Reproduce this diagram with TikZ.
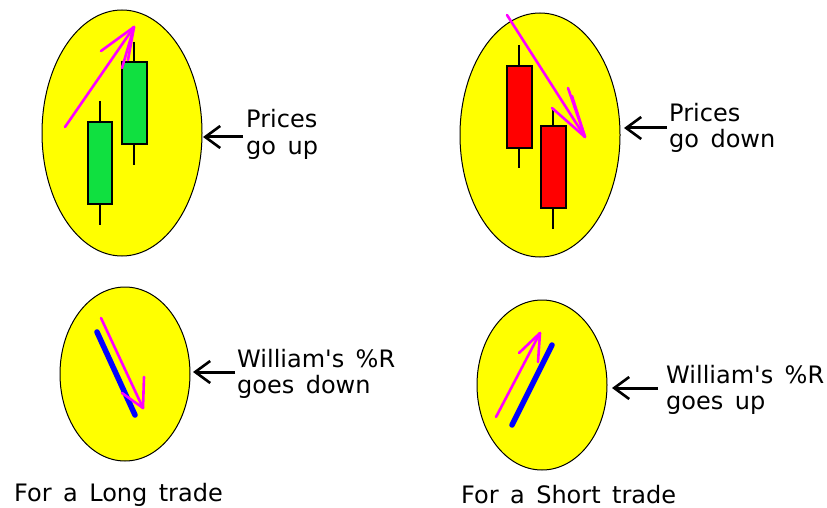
\documentclass[tikz,border=0pt]{standalone}
\usepackage{fontspec}
\newfontfamily\lblfont{DejaVu Sans}[WordSpace=1.5]
\usetikzlibrary{shapes.geometric,arrows.meta}
\definecolor{cgreen}{RGB}{16,224,64}
\definecolor{cred}{RGB}{255,0,0}
\definecolor{cyell}{RGB}{255,255,0}
\definecolor{cpink}{RGB}{255,0,255}
\definecolor{cblue}{RGB}{0,0,255}
\tikzset{
  oval/.style={draw=black, line width=1pt, fill=cyell, ellipse, inner sep=0pt},
  wick/.style={draw=black, line width=1.6pt},
  upbody/.style={draw=black, line width=1.2pt, fill=cgreen},
  downbody/.style={draw=black, line width=1.2pt, fill=cred},
  pinkline/.style={draw=cpink, line width=2.6pt, line cap=round},
  blueline/.style={draw=cblue, line width=5.5pt, line cap=round},
  ptr/.style={draw=black, line width=3pt, -{Straight Barb[length=15pt,width=22pt,line width=2.6pt]}},
  lbl/.style={anchor=base west, inner sep=0pt, font=\lblfont\fontsize{24}{26}\selectfont}
}
\begin{document}
\begin{tikzpicture}[x=1pt,y=-1pt]
\useasboundingbox[fill=white] (0,0) rectangle (827,508);
% ellipses
\node[oval, minimum width=160pt, minimum height=246pt] (e1) at (122,133) {};
\node[oval, minimum width=160pt, minimum height=244pt] (e2) at (540,135) {};
\node[oval, minimum width=130pt, minimum height=174pt] (e3) at (125,374) {};
\node[oval, minimum width=130pt, minimum height=170pt] (e4) at (542,385) {};
% green candles
\draw[wick] (100,101) -- (100,225);
\draw[upbody] (88,122) rectangle (112,204);
\draw[wick] (134,42) -- (134,165);
\draw[upbody] (122,62) rectangle (147,144);
% red candles
\draw[wick] (519,45) -- (519,168);
\draw[downbody] (507,66) rectangle (532,148);
\draw[wick] (553,110) -- (553,229);
\draw[downbody] (541,126) rectangle (566,208);
% pink arrows top
\coordinate (p1s) at (65,127);
\coordinate (p1t) at (134,27);
\draw[pinkline] (p1s) -- (p1t);
\draw[pinkline] (p1t) -- (101,51);
\draw[pinkline] (p1t) -- (122,68);
\draw[pinkline] (p1t) -- (128,60);
\coordinate (p2s) at (507,15);
\coordinate (p2t) at (585,137);
\draw[pinkline] (p2s) -- (p2t);
\draw[pinkline] (p2t) -- (552,108);
\draw[pinkline] (p2t) -- (568,88);
\draw[pinkline] (p2t) -- (572,96);
% bottom-left indicator
\coordinate (b1s) at (97,332);
\coordinate (b1t) at (135,415);
\draw[blueline] (b1s) -- (b1t);
\coordinate (p3s) at (101,318);
\coordinate (p3t) at (143,408);
\draw[pinkline] (p3s) -- (p3t);
\draw[pinkline] (p3t) -- (144,377);
\draw[pinkline] (p3t) -- (122,393);
% bottom-right indicator
\coordinate (b2s) at (512,425);
\coordinate (b2t) at (552,345);
\draw[blueline] (b2s) -- (b2t);
\coordinate (p4s) at (496,417);
\coordinate (p4t) at (540,333);
\draw[pinkline] (p4s) -- (p4t);
\draw[pinkline] (p4t) -- (519,353);
\draw[pinkline] (p4t) -- (538,362);
% black pointers
\coordinate (a1s) at (243,137); \coordinate (a1t) at (203,137);
\coordinate (a2s) at (667,128); \coordinate (a2t) at (624,128);
\coordinate (a3s) at (235,372); \coordinate (a3t) at (193,372);
\coordinate (a4s) at (658,388); \coordinate (a4t) at (612,388);
\draw[ptr] (a1s) -- (a1t);
\draw[ptr] (a2s) -- (a2t);
\draw[ptr] (a3s) -- (a3t);
\draw[ptr] (a4s) -- (a4t);
% labels
\node[lbl] (t1a) at (246,128) {Prices};
\node[lbl] (t1b) at (246,154) {go up};
\node[lbl] (t2a) at (669,122) {Prices};
\node[lbl] (t2b) at (669,148) {go down};
\node[lbl] (t3a) at (237,367) {William's \%R};
\node[lbl] (t3b) at (237,393) {goes down};
\node[lbl] (t4a) at (666,383) {William's \%R};
\node[lbl] (t4b) at (666,409) {goes up};
\node[lbl] (c1) at (14,501) {For a Long trade};
\node[lbl] (c2) at (461,503) {For a Short trade};
\end{tikzpicture}
\end{document}
